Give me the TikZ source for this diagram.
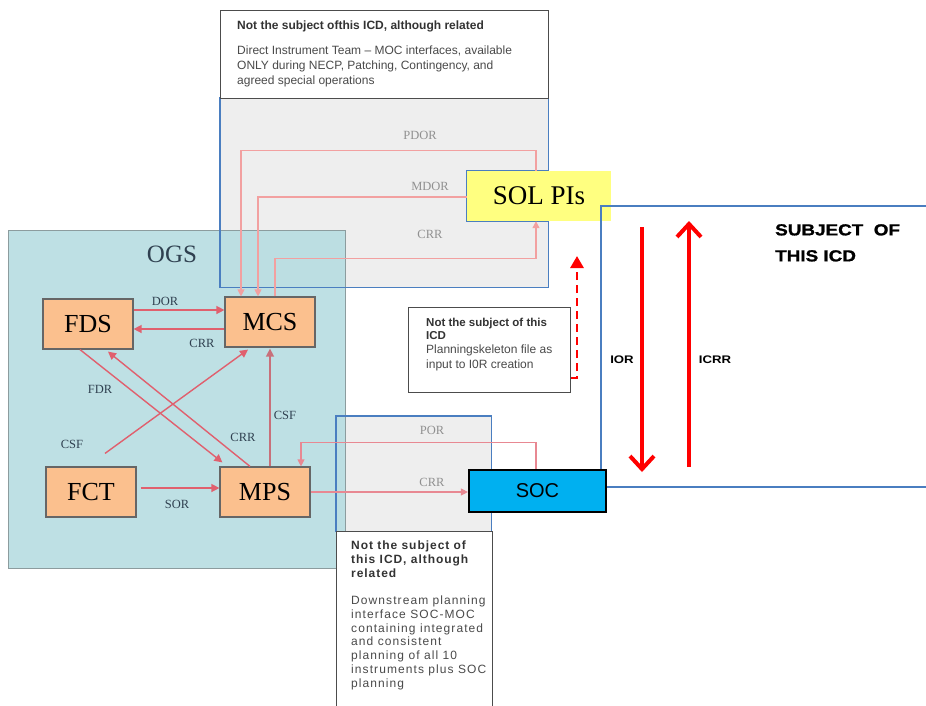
\documentclass[tikz,border=0pt]{standalone}
\usepackage{fontspec}
\setmainfont{Liberation Serif}
\setsansfont{Liberation Sans}
\newfontfamily\widefont[FakeStretch=1.2]{Liberation Sans}
\newfontfamily\heavyfont[FakeStretch=1.18,FakeBold=1.2]{Liberation Sans}
\usetikzlibrary{positioning,arrows.meta,calc}
\definecolor{ogsfill}{HTML}{B7DDE1}
\definecolor{ogsline}{HTML}{8C9C9E}
\definecolor{regfill}{HTML}{EEEEEE}
\definecolor{regline}{HTML}{4A7EC0}
\definecolor{blockfill}{HTML}{FBC08E}
\definecolor{solfill}{HTML}{FFFF80}
\definecolor{socfill}{HTML}{00B0F0}
\definecolor{arrred}{HTML}{E0606E}
\definecolor{csfred}{HTML}{C8707A}
\definecolor{litered}{HTML}{F2A0A0}
\definecolor{lbltext}{HTML}{2F4050}
\definecolor{greytext}{HTML}{909090}
\definecolor{notetext}{HTML}{4A4A4A}

\begin{document}
\begin{tikzpicture}[
    x=1pt, y=-1pt,
    region/.style={fill=regfill, draw=none, inner sep=0pt, anchor=north west},
    ogsbox/.style={fill=ogsfill, draw=ogsline, line width=1.2pt, inner sep=0pt, anchor=north west},
    notebox/.style={draw=black!70, line width=1pt, fill=white, inner sep=0pt, anchor=north west},
    block/.style={draw=black!60, fill=blockfill, line width=1.2pt, minimum width=90pt, minimum height=50pt, inner sep=0pt, font=\fontsize{26}{28}\selectfont},
    arr/.style={draw=arrred, line width=1.4pt, -{Triangle[length=8pt,width=8pt]}},
    litearr/.style={draw=litered, line width=1.2pt, -{Triangle[length=7pt,width=7pt]}},
    bigarr/.style={draw=red, line width=4pt, -{Straight Barb[length=13pt,width=24pt]}},
    dasharr/.style={draw=red, line width=2.8pt, dash pattern=on 8pt off 5pt, -{Triangle[length=12pt,width=13pt]}},
    lbl/.style={text=lbltext, font=\fontsize{12.5}{14}\selectfont, inner sep=0pt},
    greylbl/.style={text=greytext, font=\fontsize{12.5}{14}\selectfont, inner sep=0pt},
    notetitle/.style={font=\sffamily\bfseries\fontsize{12}{14}\selectfont, text=black!80, align=left, anchor=north west, inner sep=0pt},
    notebody/.style={font=\sffamily\fontsize{12}{15}\selectfont, text=notetext, align=left, anchor=north west, inner sep=0pt},
    subjlbl/.style={font=\widefont\bfseries\fontsize{11}{13}\selectfont, inner sep=0pt}
]
\useasboundingbox (0,0) rectangle (926,705);

% grey interface regions
\node[region, minimum width=328pt, minimum height=189pt] (pbox) at (220,98) {};
\node[region, minimum width=155pt, minimum height=115pt] (sbox) at (336,416) {};

% OGS
\node[ogsbox, minimum width=337pt, minimum height=338pt, fill opacity=0.9] (ogs) at (8,230) {};
\node[lbl, font=\fontsize{25}{27}\selectfont] (ogslbl) at (172,254) {OGS};

% SOL PIs
\node[fill=solfill, minimum width=144pt, minimum height=50pt, inner sep=0pt,
      font=\fontsize{27}{29}\selectfont] (sol) at (539,196) {SOL PIs};

% region borders
\draw[regline, line width=1.2pt] (pbox.south west) -- (pbox.north west) -- (pbox.north east)
    -- (pbox.east |- sol.north) -- (sol.north west) -- (sol.south west)
    -- (pbox.east |- sol.south) -- (pbox.south east) -- cycle;
\draw[regline, line width=1.2pt] (sbox.south west) rectangle (sbox.north east);
\draw[regline, line width=1.2pt] (926,206) -| (601,487) -- (926,487);

% OGS blocks
\node[block] (fds) at (88,324) {FDS};
\node[block] (mcs) at (270,322) {MCS};
\node[block] (fct) at (91,492) {FCT};
\node[block] (mps) at (265,492) {MPS};

% SOC
\node[draw=black, line width=2.2pt, fill=socfill, minimum width=137pt, minimum height=42pt,
      inner sep=0pt, font=\sffamily\fontsize{20}{22}\selectfont] (soc) at (537.5,491) {SOC};

% links SOL PIs <-> MCS
\draw[litearr] ($(sol.north)+(-3,0)$) |- ($(mcs.north)+(-29,-146)$) -- ($(mcs.north)+(-29,0)$);
\draw[litearr] ($(sol.west)+(0,1)$) -| ($(mcs.north)+(-12,0)$);
\draw[litearr] ($(mcs.north)+(5,0)$) |- ($(sol.south)+(-3,37)$) -- ($(sol.south)+(-3,0)$);
\node[greylbl] (pdorlbl) at (420,135) {PDOR};
\node[greylbl] (mdorlbl) at (430,186) {MDOR};
\node[greylbl] (crrtop) at (430,234) {CRR};

% links inside OGS
\draw[arr] ($(fds.east)+(0,-14)$) -- ($(mcs.west)+(0,-12)$);
\draw[arr] ($(mcs.west)+(0,7)$) -- ($(fds.east)+(0,5)$);
\draw[arr] ($(fds.south)+(-8,0)$) -- ($(mps.north west)+(3,-4)$);
\draw[arr] ($(mps.north)+(-15,0)$) -- ($(fds.south)+(20,2)$);
\draw[arr] ($(fct.north)+(14,-13)$) -- ($(mcs.south)+(-22,2)$);
\draw[arr, draw=csfred] ($(mps.north)+(5,0)$) -- ($(mcs.south)+(0,1)$);
\draw[arr] ($(fct.east)+(4,-4)$) -- ($(mps.west)+(0,-4)$);
\node[lbl] (dorlbl) at (165,301) {DOR};
\node[lbl] (crrlbl) at (202,343) {CRR};
\node[lbl] (fdrlbl) at (100,389) {FDR};
\node[lbl] (crrdiag) at (243,437) {CRR};
\node[lbl] (csfdiag) at (72,444) {CSF};
\node[lbl] (csfvert) at (285,415) {CSF};
\node[lbl] (sorlbl) at (177,504) {SOR};

% links MPS <-> SOC
\draw[litearr, draw=arrred!75] ($(soc.north)+(-1.5,0)$) |- ($(mps.north)+(36,-24)$) -- ($(mps.north)+(36,0)$);
\draw[litearr, draw=arrred!75] (mps.east) -- (mps.east -| soc.west);
\node[greylbl] (porlbl) at (432,430) {POR};
\node[greylbl] (crrsoc) at (432,482) {CRR};

% IOR / ICRR
\coordinate (iortop) at (642,227);
\coordinate (iorbot) at (642,472);
\coordinate (icrrbot) at (689,467);
\coordinate (icrrtop) at (689,221);
\draw[bigarr] (iortop) -- (iorbot);
\draw[bigarr] (icrrbot) -- (icrrtop);
\node[subjlbl] (iorlbl) at (622,360) {IOR};
\node[subjlbl] (icrrlbl) at (715,360) {ICRR};
\node[font=\heavyfont\bfseries\fontsize{16}{26}\selectfont, align=left, anchor=north west, inner sep=0pt]
    (subject) at (775,224) {SUBJECT\ \ OF\\THIS ICD};

% notes
\node[notebox, minimum width=328pt, minimum height=88pt] (topnote) at (220,10) {};
\node[notetitle] (toptitle) at (237,20.5) {Not the subject ofthis ICD, although related};
\node[notebody] (topbody) at (237,45.5) {Direct Instrument Team -- MOC interfaces, available\\
    ONLY during NECP, Patching, Contingency, and\\agreed special operations};

\node[notebox, minimum width=162pt, minimum height=85pt] (midnote) at (408,307) {};
\node[notetitle, font=\sffamily\bfseries\fontsize{11.5}{13}\selectfont] (midtitle) at (426,317.5) {Not the subject of this\\ICD};
\node[notebody] (midbody) at (426,344.5) {Planningskeleton file as\\input to I0R creation};
\draw[dasharr] ($(midnote.south east)+(0,-15)$) -- ++(6,0) -- ++(0,-122);

\node[notebox, minimum width=156pt, minimum height=180pt] (botnote) at (336,531) {};
\node[notetitle, font=\sffamily\bfseries\fontsize{12}{14}\selectfont\addfontfeature{LetterSpace=8}] (bottitle) at (351,540.5)
    {Not the subject of\\this ICD, although\\related};
\node[notebody, font=\sffamily\fontsize{12}{13.8}\selectfont\addfontfeature{LetterSpace=9}] (botbody) at (351,595.5)
    {Downstream planning\\interface SOC-MOC\\containing integrated\\and consistent\\planning of all 10\\instruments plus SOC\\planning};

\end{tikzpicture}
\end{document}
